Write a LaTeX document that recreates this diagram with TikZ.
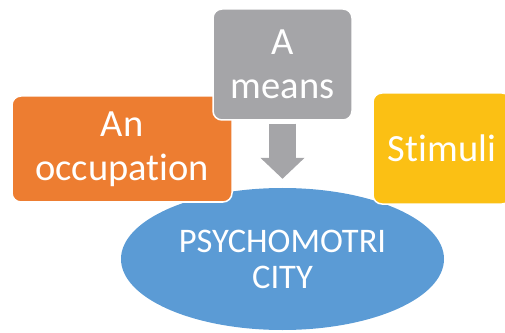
\documentclass[tikz,border=0pt]{standalone}
\usepackage{fontspec}
\setmainfont{Carlito}[Ligatures=NoCommon]
\usetikzlibrary{arrows.meta,shapes.geometric}

\definecolor{occorange}{HTML}{ED7D31}
\definecolor{meangray}{HTML}{A5A5A8}
\definecolor{stimyellow}{HTML}{FBC014}
\definecolor{psyblue}{HTML}{5B9BD5}

\begin{document}
\begin{tikzpicture}[x=1pt,y=1pt,
  box/.style={draw=white,line width=1.5pt,rounded corners=9pt,inner sep=0pt,
    text=white,align=center,font=\fontsize{38.5}{44}\selectfont},
  downarrow/.style={line width=27pt,color=meangray,
    -{Triangle[width=43pt,length=21pt]}}]
\useasboundingbox (0,0) rectangle (505,332);

%Draw the ellipse
\node [ellipse,fill=psyblue,inner sep=0pt,minimum width=323,minimum height=142,
  text=white,align=center,font=\fontsize{34.5}{36}\selectfont]
  (psycho) at (282.5,73) {PSYCHOMOTRI\\CITY};

%Draw the three boxes
\node [box,fill=occorange,minimum width=220,minimum height=106]
  (occupation) at (122,183) {An\\occupation};
\node [box,fill=stimyellow,minimum width=138,minimum height=111]
  (stimuli) at (442,183.5) {Stimuli};
\node [box,fill=meangray,minimum width=139,minimum height=111]
  (means) at (282.5,267.5) {A\\means};

%Draw the arrow
\draw [downarrow] ([yshift=-3]means.south) -- ([yshift=9]psycho.north);
\end{tikzpicture}
\end{document}
